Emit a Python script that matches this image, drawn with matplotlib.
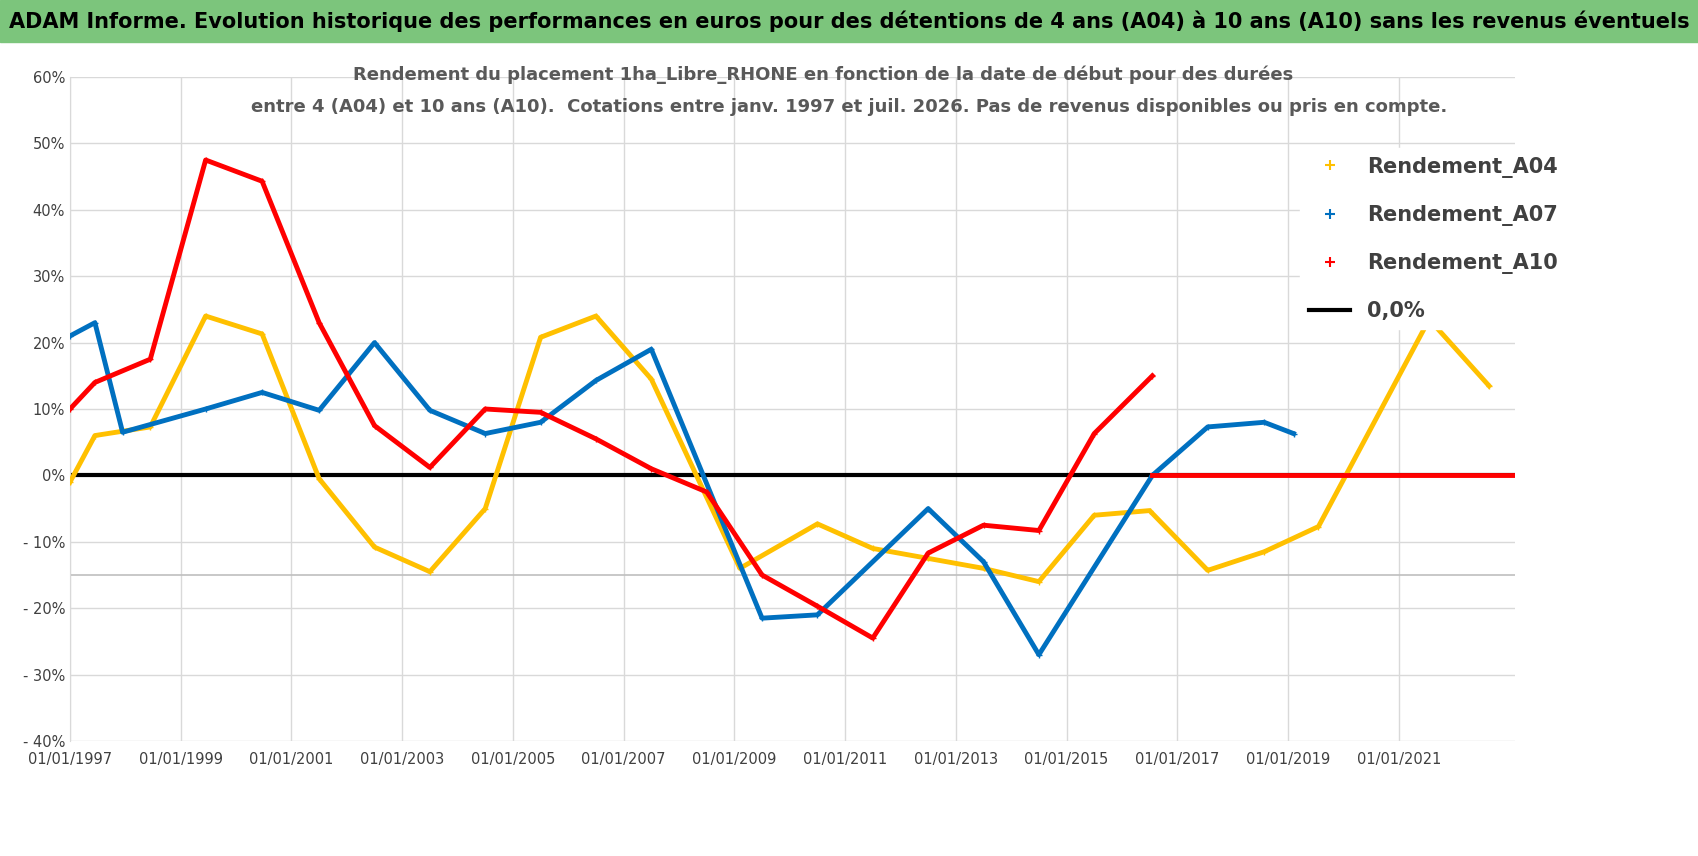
import matplotlib
matplotlib.use("Agg")
import matplotlib.pyplot as plt
from matplotlib.ticker import FuncFormatter

plt.rcParams['font.family'] = ['DejaVu Sans']

# year positions (decimal years) and returns in %
a04_x = [1997.0, 1997.45, 1998.45, 1999.45, 2000.47, 2001.5, 2002.5, 2003.5, 2004.5, 2005.5,
         2006.5, 2007.5, 2009.1, 2010.5, 2011.5, 2012.5, 2013.5, 2014.5, 2015.5, 2016.5,
         2017.55, 2018.57, 2019.55, 2021.55, 2022.63]
a04_y = [-1, 6, 7.3, 24, 21.3, -0.5, -10.8, -14.5, -5, 20.8,
         24, 14.5, -14, -7.3, -11, -12.5, -14, -16, -6, -5.3,
         -14.3, -11.5, -7.7, 23.5, 13.5]
a07_x = [1997.0, 1997.45, 1997.95, 1999.45, 2000.47, 2001.5, 2002.5, 2003.5, 2004.5, 2005.5,
         2006.5, 2007.5, 2009.5, 2010.5, 2012.5, 2013.5, 2014.5, 2016.55, 2017.55, 2018.57, 2019.1]
a07_y = [21, 23, 6.5, 10, 12.5, 9.8, 20, 9.8, 6.3, 8,
         14.3, 19, -21.5, -21, -5, -13, -27, 0, 7.3, 8, 6.3]
a10_x = [1997.0, 1997.45, 1998.45, 1999.45, 2000.47, 2001.5, 2002.5, 2003.5, 2004.5, 2005.5,
         2006.5, 2007.5, 2008.5, 2009.5, 2010.5, 2011.5, 2012.5, 2013.5, 2014.5, 2015.5, 2016.55]
a10_y = [10, 14, 17.5, 47.5, 44.3, 23, 7.5, 1.2, 10, 9.5,
         5.5, 1, -2.5, -15, -19.7, -24.5, -11.7, -7.5, -8.3, 6.3, 15]
a10_zero_x = [2016.55, 2023.1]
tick_years = list(range(1997, 2023, 2))

fig = plt.figure(figsize=(16.98, 8.56), dpi=100)
fig.patch.set_facecolor('white')
# title bar
fig.patches.append(plt.Rectangle((0, 1 - 42 / 856), 1, 42 / 856, transform=fig.transFigure,
                                 color='#7CC57C', zorder=0))
fig.text(0.5, 1 - 21 / 856, "ADAM Informe. Evolution historique des performances en euros pour des détentions de 4 ans (A04) à 10 ans (A10) sans les revenus éventuels",
         fontsize=15, fontweight='bold', va='center', ha='center')

ax = fig.add_axes([70 / 1698, 1 - 741 / 856, (1515 - 70) / 1698, (741 - 77) / 856])
ax.set_xlim(1997, 2023.1)
ax.set_ylim(-40, 60)
ax.set_xticks(tick_years)
ax.set_xticklabels([f"01/01/{y}" for y in tick_years], fontsize=10.5, color='#404040')
ax.set_yticks(range(-40, 61, 10))
ax.yaxis.set_major_formatter(FuncFormatter(lambda v, p: f"{int(v)}%" if v >= 0 else f"- {int(-v)}%"))
ax.tick_params(axis='y', labelsize=10.5, colors='#404040', length=0)
ax.tick_params(axis='x', length=0, pad=8)
ax.grid(True, color='#d9d9d9', linewidth=1)
ax.axhline(-15, color='#bfbfbf', linewidth=1.2)
for s in ax.spines.values():
    s.set_visible(False)
ax.spines['left'].set_visible(True)
ax.spines['left'].set_color('#d9d9d9')

ax.axhline(0, color='black', lw=3, zorder=2.5)
ax.plot(a04_x, a04_y, color='#FFC000', lw=3.5, marker='+', ms=4, zorder=3)
ax.plot(a07_x, a07_y, color='#0070C0', lw=3.5, marker='+', ms=4, zorder=3)
ax.plot(a10_x, a10_y, color='#FF0000', lw=3.5, marker='+', ms=4, zorder=3)
ax.plot(a10_zero_x, [0, 0], color='#FF0000', lw=3.5, zorder=3)

handles = [plt.Line2D([], [], color=c, marker='+', ls='none', ms=7, mew=1.5)
           for c in ['#FFC000', '#0070C0', '#FF0000']] + [plt.Line2D([], [], color='black', lw=3)]
leg = fig.legend(handles, ['Rendement_A04', 'Rendement_A07', 'Rendement_A10', '0,0%'],
                 loc='upper left', bbox_to_anchor=(1290 / 1698, 1 - 138 / 856),
                 frameon=True, fancybox=False, framealpha=1, edgecolor='white',
                 prop={'size': 15, 'weight': 'bold'}, labelspacing=1.3, handlelength=2)
for t in leg.get_texts():
    t.set_color('#404040')

fig.text(0.485, 1 - 75 / 856, "Rendement du placement 1ha_Libre_RHONE en fonction de la date de début pour des durées",
         fontsize=13, fontweight='bold', color='#595959', ha='center', va='center')
fig.text(0.5, 1 - 107 / 856, "entre 4 (A04) et 10 ans (A10).  Cotations entre janv. 1997 et juil. 2026. Pas de revenus disponibles ou pris en compte.",
         fontsize=13, fontweight='bold', color='#595959', ha='center', va='center')

fig.savefig("out.png", dpi=100)
